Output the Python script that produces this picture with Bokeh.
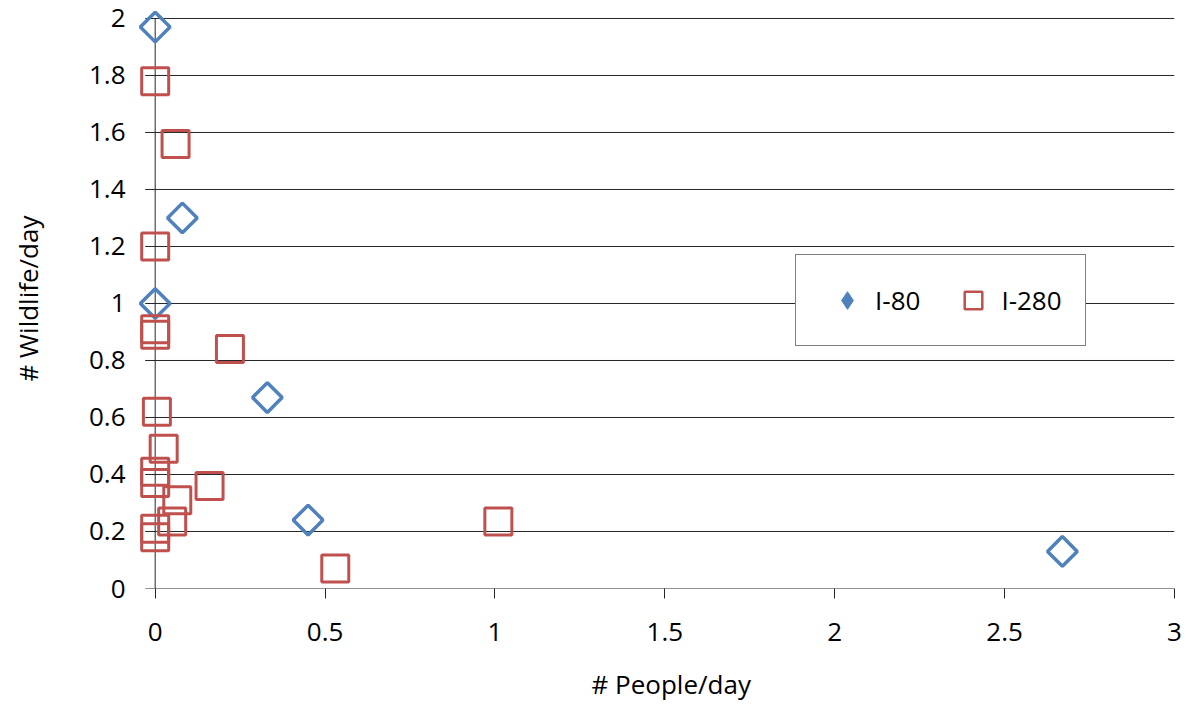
import math
from bokeh.plotting import figure
from bokeh.models import Range1d, FixedTicker, NumeralTickFormatter, Legend, LegendItem, Title
from bokeh.embed import file_html
from bokeh.resources import INLINE

# ---- data ----
i80_x = [0.0, 0.08, 0.0, 0.33, 0.45, 2.67]
i80_y = [1.97, 1.30, 1.00, 0.67, 0.24, 0.13]

i280_x = [0.0, 0.06, 0.0, 0.0, 0.0, 0.22, 0.005, 0.025, 0.0, 0.0, 0.16, 0.065, 0.05, 0.0, 0.0, 0.53, 1.01]
i280_y = [1.78, 1.56, 1.20, 0.91, 0.89, 0.84, 0.62, 0.49, 0.41, 0.37, 0.36, 0.31, 0.235, 0.21, 0.18, 0.07, 0.235]

x_ticks = [0, 0.5, 1, 1.5, 2, 2.5, 3]
y_ticks = [0, 0.2, 0.4, 0.6, 0.8, 1.0, 1.2, 1.4, 1.6, 1.8, 2.0]

series_names = ["I-80", "I-280"]
x_title = "# People/day"
y_title = "# Wildlife/day"

# ---- style ----
BLUE = "#4F81BD"
RED = "#C0504D"
GRID = "#262626"
FONT = "Open Sans"
FSIZE = "26px"
TSIZE = "26px"

X_MIN, X_MAX = -0.055, 3
Y_MIN, Y_MAX = 0, 2.035
TICK_EXT = -0.0294   # y-tick length (10px) in data units

p = figure(frame_width=1038, frame_height=580,
           x_range=Range1d(X_MIN, X_MAX), y_range=Range1d(Y_MIN, Y_MAX),
           output_backend="svg", toolbar_location=None,
           min_border_left=136, min_border_right=12, min_border_top=8, min_border_bottom=0)
p.outline_line_color = None
p.xgrid.visible = False
p.ygrid.visible = False
p.background_fill_color = "white"
p.border_fill_color = "white"

# horizontal gridlines (extend 10px left of the y axis, as tick marks)
n = len(y_ticks)
p.segment(x0=[TICK_EXT] * n, y0=y_ticks, x1=[x_ticks[-1]] * n, y1=y_ticks,
          line_color=GRID, line_width=1)
# vertical y-axis line at x = 0
p.segment(x0=[x_ticks[0]], y0=[y_ticks[0]], x1=[x_ticks[0]], y1=[y_ticks[-1]],
          line_color=GRID, line_width=1)

# data markers
p.scatter(i80_x, i80_y, marker="square", angle=math.pi / 4, size=21,
          fill_color=None, line_color=BLUE, line_width=3.5)
p.scatter(i280_x, i280_y, marker="square", size=27,
          fill_color=None, line_color=RED, line_width=3)

# legend-only renderers (Excel shows a filled diamond in the legend)
leg80 = p.scatter(i80_x, i80_y, marker="diamond",
                  fill_color=BLUE, line_color=BLUE, line_width=1, visible=False)
leg280 = p.scatter(i280_x, i280_y, marker="square",
                   fill_color="white", line_color=RED, line_width=2.5, visible=False)

# axes
xa = p.xaxis[0]
xa.ticker = FixedTicker(ticks=x_ticks)
xa.formatter = NumeralTickFormatter(format="0.[0]")
xa.axis_line_color = None
xa.major_tick_line_color = GRID
xa.major_tick_out = 10
xa.major_tick_in = 0
xa.minor_tick_line_color = None
xa.major_label_standoff = 24
xa.major_label_text_font = FONT
xa.major_label_text_font_size = FSIZE
xa.major_label_text_color = "black"

ya = p.yaxis[0]
ya.ticker = FixedTicker(ticks=y_ticks)
ya.formatter = NumeralTickFormatter(format="0.[0]")
ya.axis_line_color = None
ya.major_tick_line_color = None
ya.minor_tick_line_color = None
ya.major_tick_out = 0
ya.major_tick_in = 0
ya.major_label_standoff = 11
ya.major_label_text_font = FONT
ya.major_label_text_font_size = FSIZE
ya.major_label_text_color = "black"
ya.axis_label = y_title
ya.axis_label_standoff = 40
ya.axis_label_text_font = FONT
ya.axis_label_text_font_size = TSIZE
ya.axis_label_text_font_style = "normal"
ya.axis_label_text_color = "black"

# x-axis title
p.add_layout(Title(text=x_title, align="left", offset=455, standoff=41,
                   text_font=FONT, text_font_size=TSIZE, text_font_style="normal",
                   text_color="black"), "below")

legend = Legend(items=[LegendItem(label=series_names[0], renderers=[leg80]),
                       LegendItem(label=series_names[1], renderers=[leg280])],
                location=(659, 242), orientation="horizontal",
                glyph_width=56, glyph_height=44, label_standoff=0, spacing=25,
                padding=23, margin=0,
                border_line_color="black", border_line_width=1,
                background_fill_color="white", background_fill_alpha=1,
                label_text_font=FONT, label_text_font_size=FSIZE,
                label_text_color="black", inactive_fill_alpha=0)
p.add_layout(legend)

open("out.html", "w").write(file_html(p, INLINE))
